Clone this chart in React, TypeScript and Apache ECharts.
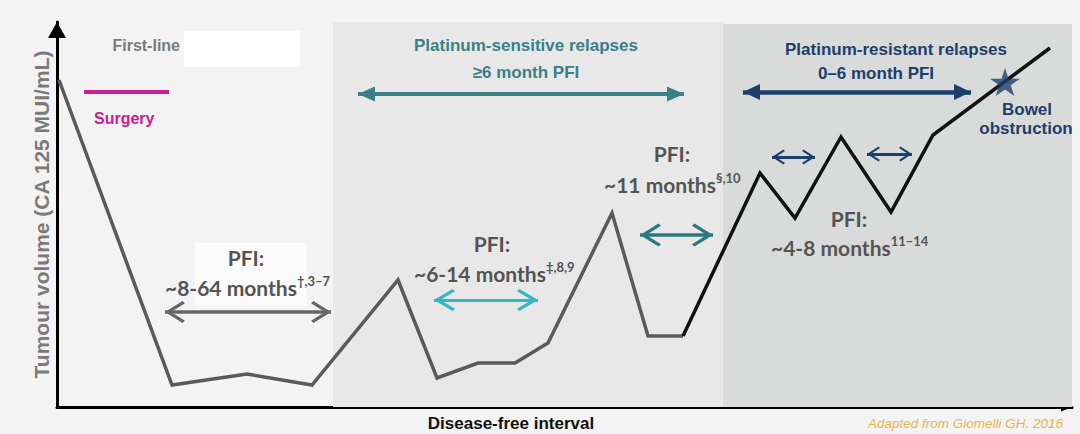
import React, { useEffect, useRef } from 'react';
import * as echarts from 'echarts';

// Conceptual curve of tumour volume over time (arbitrary units)
const grayLineX = [2, 115, 190, 255, 341, 380, 421, 458, 491, 555, 591, 626];
const grayLineY = [327, 22, 33, 22, 127, 29, 44, 44, 64, 194, 71, 71];
const blackLineX = [626, 703, 738, 784, 834, 876, 993];
const blackLineY = [71, 234, 189, 270, 195, 272, 359];
const bowelObstruction = [948, 325];

// Phase bands [from, to] along the x axis
const sensitiveBand = [276, 666];
const resistantBand = [666, 1015];
const bandTop = 385;

// Annotation arrows: [x1, x2, y]
const grayArrows = [[108, 274, 95]];
const cyanArrows = [[377, 481, 107]];
const tealArrows = [[583, 656, 172]];
const navyArrows = [[715, 758, 250], [810, 855, 253]];
const tealHeader = [[301, 627, 313]];
const navyHeader = [[686, 914, 315]];
const surgeryBar = [[27, 112, 315]];

const AR = '"Liberation Sans", Arial, sans-serif';
const LA = 'Lato, "Open Sans", sans-serif';

const chevron = 'path://M10,0L10.01,0L10,0.01Z M10,20L20,37.6L18,40L10,26L2,40L0,37.6Z';
const tri = 'path://M10,0L10.01,0L10,0.01Z M10,20L20,40L0,40Z';
const star = 'path://M50,0L61.23,34.55L97.55,34.55L68.16,55.9L79.39,90.45L50,69.1L20.61,90.45L31.84,55.9L2.45,34.55L38.77,34.55Z';

function arrowSeries(segs: number[][], color: string, width: number, symbol: string, size: number[]) {
  return {
    type: 'line',
    data: [],
    silent: true,
    markLine: {
      silent: true,
      animation: false,
      symbol: [symbol, symbol],
      label: { show: false },
      emphasis: { disabled: true },
      lineStyle: { color, width, type: 'solid', cap: 'butt' },
      data: segs.map(([x1, x2, y]) => [
        { coord: [x1, y], symbolSize: size },
        { coord: [x2, y], symbolSize: size },
      ]),
    },
  };
}

function txt(x: number, y: number, text: string, font: string, fill: string, align = 'center') {
  return {
    type: 'text',
    x,
    y,
    z: 100,
    silent: true,
    style: { text, font, fill, textAlign: align, textVerticalAlign: 'middle' },
  };
}

const pfiColor = '#545454';

function richTxt(x: number, y: number, main: string, sup: string) {
  return {
    type: 'text',
    x,
    y,
    z: 100,
    silent: true,
    style: {
      text: `{a|${main}}{s|${sup}}`,
      textAlign: 'left',
      textVerticalAlign: 'middle',
      rich: {
        a: { font: `bold 21px ${LA}`, fill: pfiColor, lineHeight: 25 },
        s: { font: `bold 13px ${LA}`, fill: pfiColor, lineHeight: 15, verticalAlign: 'top' },
      },
    },
  };
}

export default function App() {
  const ref = useRef<HTMLDivElement>(null);
  useEffect(() => {
    if (!ref.current) return;
    const chart = echarts.init(ref.current, undefined, { renderer: 'svg' });
    const option = {
      animation: false,
      backgroundColor: '#f3f3f3',
      grid: { left: 57, right: 8, top: 22, bottom: 27 },
      xAxis: {
        type: 'value',
        min: 0,
        max: 1015,
        splitLine: { show: false },
        axisTick: { show: false },
        axisLabel: { show: false },
        axisLine: {
          show: true,
          lineStyle: { color: '#000', width: 3 },
          symbol: ['none', 'triangle'],
          symbolSize: [9, 11],
          symbolOffset: [0, -5.5],
        },
      },
      yAxis: {
        type: 'value',
        min: 0,
        max: bandTop,
        name: 'Tumour volume (CA 125 MUI/mL)',
        nameLocation: 'middle',
        nameGap: 5,
        nameRotate: 90,
        nameTextStyle: { fontFamily: AR, fontWeight: 'bold', fontSize: 21, color: '#7a7a7a' },
        splitLine: { show: false },
        axisTick: { show: false },
        axisLabel: { show: false },
        axisLine: {
          show: true,
          lineStyle: { color: '#000', width: 3 },
          symbol: ['none', 'triangle'],
          symbolSize: [18, 16],
          symbolOffset: [0, -8],
        },
      },
      series: [
        {
          type: 'line',
          data: [],
          silent: true,
          markArea: {
            silent: true,
            label: { show: false },
            data: [
              [
                { xAxis: sensitiveBand[0], yAxis: 0, itemStyle: { color: '#e8e8e8' } },
                { xAxis: sensitiveBand[1], yAxis: bandTop },
              ],
              [
                { xAxis: resistantBand[0], yAxis: 0, itemStyle: { color: '#d9dada' } },
                { xAxis: resistantBand[1], yAxis: bandTop - 2 },
              ],
              [
                { xAxis: 127, yAxis: 340, itemStyle: { color: '#ffffff' } },
                { xAxis: 243, yAxis: 376 },
              ],
              [
                { xAxis: 138, yAxis: 101, itemStyle: { color: '#fbfbfb' } },
                { xAxis: 250, yAxis: 164 },
              ],
            ],
          },
        },
        {
          type: 'line',
          name: 'Platinum-sensitive course',
          data: grayLineX.map((x, i) => [x, grayLineY[i]]),
          symbol: 'none',
          silent: true,
          z: 5,
          lineStyle: { color: '#5a5a5a', width: 3.5, join: 'miter' },
        },
        {
          type: 'line',
          name: 'Platinum-resistant course',
          data: blackLineX.map((x, i) => [x, blackLineY[i]]),
          symbol: 'none',
          silent: true,
          z: 6,
          lineStyle: { color: '#111111', width: 3.5, join: 'miter' },
        },
        {
          type: 'scatter',
          name: 'Bowel obstruction',
          data: [bowelObstruction],
          symbol: star,
          symbolSize: [30, 28],
          silent: true,
          z: 8,
          itemStyle: { color: '#1c3f6b' },
        },
        arrowSeries(grayArrows, '#666666', 3.5, chevron, [22, 40]),
        arrowSeries(cyanArrows, '#35b7c5', 3, chevron, [22, 42]),
        arrowSeries(tealArrows, '#2b787e', 3.5, chevron, [23, 42]),
        arrowSeries(navyArrows, '#1c3f6b', 3, chevron, [15, 26]),
        arrowSeries(tealHeader, '#3b8087', 4, tri, [15, 34]),
        arrowSeries(navyHeader, '#1c3f6b', 4.5, tri, [16, 34]),
        {
          type: 'line',
          data: [],
          silent: true,
          markLine: {
            silent: true,
            symbol: ['none', 'none'],
            label: { show: false },
            emphasis: { disabled: true },
            lineStyle: { color: '#c8218f', width: 4, type: 'solid' },
            data: surgeryBar.map(([x1, x2, y]) => [{ coord: [x1, y] }, { coord: [x2, y] }]),
          },
        },
      ],
      graphic: [
        txt(180, 45, 'First-line', `bold 16px ${AR}`, '#7a7a7a', 'right'),
        txt(94, 118, 'Surgery', `bold 16px ${AR}`, '#c8218f', 'left'),
        txt(526, 45, 'Platinum-sensitive relapses', `bold 17px ${AR}`, '#3b8087'),
        txt(526, 72, '≥6 month PFI', `bold 17px ${AR}`, '#3b8087'),
        txt(896, 49, 'Platinum-resistant relapses', `bold 17px ${AR}`, '#1c3f6b'),
        txt(876, 73, '0–6 month PFI', `bold 17px ${AR}`, '#1c3f6b'),
        txt(1027, 109, 'Bowel', `bold 17px ${AR}`, '#1c3f6b'),
        txt(1026, 128, 'obstruction', `bold 17px ${AR}`, '#1c3f6b'),
        txt(672, 153, 'PFI:', `bold 21px ${LA}`, pfiColor),
        richTxt(604, 184, '~11 months', '§,10'),
        txt(492, 243, 'PFI:', `bold 21px ${LA}`, pfiColor),
        richTxt(414, 273, '~6-14 months', '‡,8,9'),
        txt(246, 257, 'PFI:', `bold 21px ${LA}`, pfiColor),
        richTxt(165, 287, '~8-64 months', '†,3–7'),
        txt(849, 218, 'PFI:', `bold 21px ${LA}`, pfiColor),
        richTxt(771, 247, '~4-8 months', '11–14'),
        txt(511, 423, 'Disease-free interval', `bold 17px ${AR}`, '#111111'),
        txt(1063, 423, 'Adapted from Giomelli GH. 2016', `italic 13.5px ${AR}`, '#e8b64c', 'right'),
      ],
    };
    chart.setOption(option as any);
    return () => chart.dispose();
  }, []);
  return (
    <div
      ref={ref}
      style={{ position: 'fixed', left: 0, top: 0, width: 1080, height: 434 }}
    />
  );
}
